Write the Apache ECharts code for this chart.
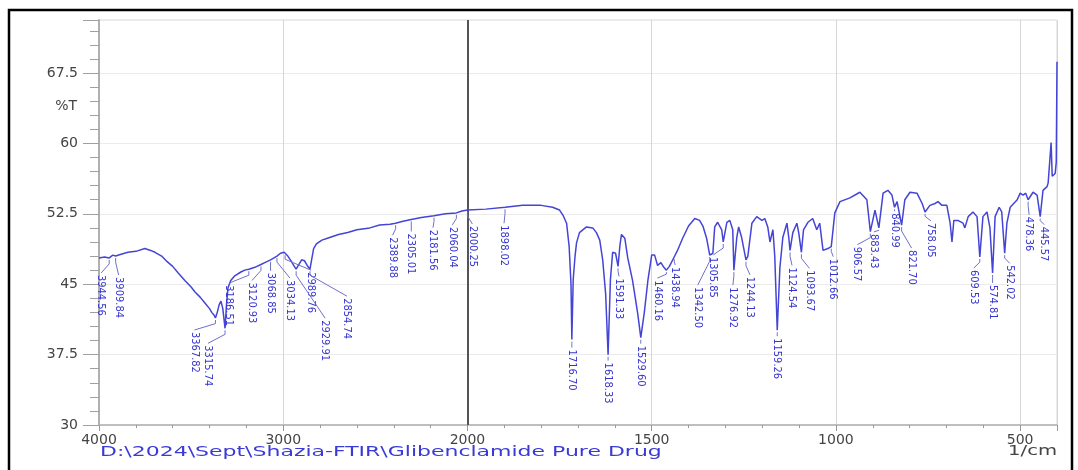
<!DOCTYPE html>
<html>
<head>
<meta charset="utf-8">
<title>Glibenclamide Pure Drug - FTIR</title>
<script src="https://cdn.jsdelivr.net/npm/echarts@6/dist/echarts.min.js"></script>
<style>
  html, body { margin: 0; padding: 0; background: #ffffff; }
  #chart { width: 1078px; height: 470px; }
</style>
</head>
<body>
<div id="chart"></div>
<script>
// FTIR spectrum: wavenumber (1/cm) and transmittance (%T)
const wavenumbers = [
  4000, 3970, 3944.56, 3925, 3909.84, 3880, 3843, 3800, 3751, 3720, 3696, 3660, 3630, 3600,
  3570, 3534, 3500, 3480, 3450, 3425, 3400, 3388, 3375, 3367.82, 3358, 3348, 3338, 3328,
  3315.74, 3308, 3300, 3285, 3263, 3230, 3209, 3186.51, 3154, 3120.93, 3100, 3068.85, 3050,
  3034.13, 3015, 2995, 2989.76, 2975, 2955, 2940, 2929.91, 2918, 2900, 2885, 2870, 2854.74,
  2846, 2835, 2820, 2790, 2760, 2700, 2650, 2600, 2530, 2477, 2420, 2389.88, 2350, 2305.01,
  2250, 2181.56, 2120, 2060.04, 2030, 2000.25, 1950, 1898.02, 1850, 1800, 1769, 1750, 1740,
  1731, 1724, 1719, 1716.70, 1713, 1708, 1704, 1696, 1677, 1660, 1650, 1641, 1633, 1625,
  1618.33, 1612, 1606, 1598, 1591.33, 1586, 1582, 1578, 1573, 1565, 1552, 1538, 1529.60,
  1520, 1510, 1500, 1492, 1484, 1475, 1467, 1460.16, 1452, 1438.94, 1430, 1416, 1400, 1383,
  1370, 1361, 1351, 1342.50, 1334, 1329, 1321, 1310, 1305.85, 1296, 1288, 1280, 1276.92,
  1269, 1264, 1256, 1244.13, 1239, 1228, 1215, 1201, 1193, 1185, 1179, 1171, 1166, 1159.26,
  1152, 1144, 1133, 1128, 1124.54, 1117, 1106, 1101, 1093.67, 1088, 1076, 1063, 1052, 1044,
  1035, 1022, 1012.66, 1003, 989, 962, 935, 916, 906.57, 894, 883.43, 872, 859, 848, 840.99,
  834, 821.70, 813, 799, 780, 766, 758.05, 745, 731, 723, 712, 699, 690, 685, 680, 669, 655,
  650, 641, 628, 617, 609.53, 601, 590, 582, 574.81, 568, 557, 550, 542.02, 536, 527, 508,
  500, 492, 485, 478.36, 465, 454, 445.57, 438, 427, 424, 419, 416, 413, 408, 405, 402, 400
];
const transmittance = [
  47.8, 47.9, 47.8, 48.1, 48.0, 48.2, 48.4, 48.5, 48.8, 48.6, 48.4, 48.0, 47.4, 46.9,
  46.2, 45.4, 44.7, 44.2, 43.6, 43.0, 42.4, 42.0, 41.7, 41.4, 42.0, 42.8, 43.2, 42.4,
  40.3, 42.8, 44.6, 45.4, 45.9, 46.3, 46.5, 46.6, 46.8, 47.1, 47.3, 47.6, 47.8,
  48.0, 48.3, 48.4, 48.3, 48.0, 47.4, 46.9, 46.6, 47.0, 47.6, 47.5, 47.0, 46.6,
  47.6, 48.8, 49.3, 49.7, 49.9, 50.3, 50.5, 50.8, 51.0, 51.3, 51.4, 51.5, 51.7, 51.9,
  52.1, 52.3, 52.5, 52.6, 52.8, 52.9, 53.0, 53.2, 53.4, 53.4, 53.2, 52.9, 52.3,
  51.5, 49.0, 45.0, 39.1, 45.5, 48.0, 49.4, 50.5, 51.1, 51.0, 50.5, 49.7, 47.6, 44.0,
  37.5, 45.5, 48.4, 48.3, 46.9, 49.2, 50.3, 50.1, 49.9, 47.8, 45.4, 41.9, 39.3,
  42.0, 45.5, 48.1, 48.1, 47.0, 47.3, 46.8, 46.5, 46.9, 47.9, 48.6, 49.9, 51.2, 52.0,
  51.8, 51.2, 49.9, 48.1, 48.3, 51.1, 51.6, 50.8, 49.5, 51.6, 51.8, 50.8, 46.5,
  50.0, 51.1, 50.0, 47.6, 48.0, 51.5, 52.2, 51.8, 52.0, 51.1, 49.5, 50.8, 48.0, 40.1,
  46.8, 50.0, 51.5, 50.0, 48.6, 50.5, 51.5, 50.5, 48.4, 50.8, 51.6, 52.0, 50.8, 51.5,
  48.6, 48.8, 49.0, 52.6, 53.8, 54.2, 54.8, 54.0, 50.6, 52.9, 51.0, 54.7, 55.0, 54.5, 53.2,
  53.8, 51.3, 54.0, 54.8, 54.7, 53.6, 52.7, 53.4, 53.6, 53.8, 53.4, 53.4, 51.5, 49.5, 51.8, 51.8, 51.5,
  51.0, 52.2, 52.7, 52.2, 47.9, 52.2, 52.7, 51.0, 46.2, 52.2, 53.2, 52.7, 48.3, 51.5, 53.2, 54.0,
  54.7, 54.5, 54.7, 54.0, 54.8, 54.5, 52.2, 55.0, 55.4, 55.8, 56.0, 60.1, 56.5, 56.3, 56.8, 58.0, 68.7
];

// Wavenumbers of the picked peaks
const peakWavenumbers = [
  3944.56, 3909.84, 3367.82, 3315.74, 3186.51, 3120.93, 3068.85, 3034.13, 2989.76, 2929.91,
  2854.74, 2389.88, 2305.01, 2181.56, 2060.04, 2000.25, 1898.02, 1716.70, 1618.33, 1591.33,
  1529.60, 1460.16, 1438.94, 1342.50, 1305.85, 1276.92, 1244.13, 1159.26, 1124.54, 1093.67,
  1012.66, 906.57, 883.43, 840.99, 821.70, 758.05, 609.53, 574.81, 542.02, 478.36, 445.57
];

const xTickLabels = [4000, 3000, 2000, 1500, 1000, 500];
const yTickLabels = [30, 37.5, 45, 52.5, 60, 67.5];

// Label placement for each peak: [dx, dy] in px from the peak point to the label's top
const peakLabelOffsets = [
  [-8, 17], [3, 21], [-21, 14], [-17, 17], [-20, 16], [-9, 18], [0, 13], [13, 24], [26, 19], [29, 51],
  [37, 29], [-3, 14], [0, 14], [-1, 14], [-4, 14], [5, 16], [-1, 18], [0, 10], [0, 8], [1, 12],
  [0, 8], [-9, 10], [1, 10], [-12, 32], [-10, 15], [-1, 17], [4, 17], [0, 8], [2, 17], [8, 18],
  [2, 12], [-13, 15], [-5, 6], [0, 6], [10, 25], [6, 11], [-6, 13], [0, 12], [5, 12], [1, 17], [4, 10]
];

// The wavenumber axis is expanded 2x below 2000 1/cm.
function toAxis(w) { return w >= 2000 ? 4000 - w : 2000 + 2 * (2000 - w); }
function fromAxis(u) { return u <= 2000 ? 4000 - u : 2000 - (u - 2000) / 2; }

const spectrum = wavenumbers.map((w, i) => [toAxis(w), transmittance[i]]);
const peaks = peakWavenumbers.map((w, k) => {
  const i = wavenumbers.indexOf(w);
  return [toAxis(w), transmittance[i], w, k];
});

const blue = '#4444d6';
const labelBlue = '#3434d0';

const chart = echarts.init(document.getElementById('chart'), null, { renderer: 'canvas' });

chart.setOption({
  backgroundColor: '#ffffff',
  animation: false,
  grid: {
    left: 99, right: 21, top: 20, bottom: 45,
    show: true, borderColor: '#d9d9d9', borderWidth: 1
  },
  xAxis: {
    type: 'value',
    min: 0, max: 5200, interval: 1000,
    axisLine: { show: true, onZero: false, lineStyle: { color: '#b0b0b0', width: 1.5 } },
    axisTick: { show: true, length: 6, lineStyle: { color: '#999' } },
    minorTick: { show: true, splitNumber: 5, length: 3, lineStyle: { color: '#999' } },
    axisLabel: {
      margin: 8,
      fontFamily: 'DejaVu Sans', fontSize: 14, color: '#444',
      formatter: u => {
        const w = fromAxis(u);
        return xTickLabels.indexOf(w) >= 0 ? String(w) : '';
      }
    },
    splitLine: { show: true, lineStyle: { color: '#d6d6d6', width: 1 } }
  },
  yAxis: {
    type: 'value',
    min: 30, max: 73.15, interval: 7.5,
    axisLine: { show: true, onZero: false, lineStyle: { color: '#b0b0b0', width: 2 } },
    axisTick: { show: true, length: 16, lineStyle: { color: '#a0a0a0' } },
    minorTick: { show: true, splitNumber: 5, length: 9, lineStyle: { color: '#a0a0a0' } },
    axisLabel: {
      margin: 21, showMaxLabel: false,
      fontFamily: 'DejaVu Sans', fontSize: 14, color: '#444',
      formatter: v => yTickLabels.indexOf(v) >= 0 ? String(v) : ''
    },
    splitLine: { show: true, lineStyle: { color: '#ebebeb', width: 1 } }
  },
  series: [
    {
      type: 'line',
      data: spectrum,
      showSymbol: false,
      smooth: false,
      lineStyle: { color: blue, width: 1.5 },
      z: 3,
      markLine: {
        silent: true,
        symbol: 'none',
        label: { show: false },
        lineStyle: { color: '#555', width: 2, type: 'solid' },
        data: [{ xAxis: toAxis(2000) }],
        z: 1
      }
    },
    {
      // peak markers: leader line plus a vertical wavenumber label
      type: 'custom',
      data: peaks,
      z: 4,
      renderItem: (params, api) => {
        const p = api.coord([api.value(0), api.value(1)]);
        const off = peakLabelOffsets[api.value(3)];
        const dx = off[0], dy = off[1];
        const bend = Math.min(6, dy * 0.4);
        return {
          type: 'group',
          children: [
            {
              type: 'polyline',
              shape: {
                points: [
                  [p[0], p[1] + 2],
                  [p[0], p[1] + bend],
                  [p[0] + dx, p[1] + dy - 2]
                ]
              },
              style: { stroke: '#7070c8', lineWidth: 1, fill: null }
            },
            {
              type: 'text',
              x: p[0] + dx, y: p[1] + dy,
              rotation: -Math.PI / 2,
              style: {
                text: api.value(2).toFixed(2),
                fill: labelBlue,
                font: '11px "Liberation Sans Narrow", "DejaVu Sans Condensed", "Liberation Sans", sans-serif',
                textAlign: 'left',
                textVerticalAlign: 'middle'
              }
            }
          ]
        };
      }
    }
  ],
  graphic: [
    {
      type: 'rect',
      shape: { x: 9, y: 10, width: 1063, height: 480 },
      style: { fill: 'none', stroke: '#000', lineWidth: 2.5 },
      silent: true
    },
    {
      type: 'text',
      x: 77, y: 106,
      style: {
        text: '%T', fill: '#444',
        font: '14px "DejaVu Sans"',
        textAlign: 'right', textVerticalAlign: 'middle'
      }
    },
    {
      type: 'text',
      x: 100, y: 452,
      scaleX: 1.57,
      style: {
        text: 'D:\\2024\\Sept\\Shazia-FTIR\\Glibenclamide Pure Drug',
        fill: '#3a3ad6',
        font: '14px "DejaVu Sans"',
        textAlign: 'left', textVerticalAlign: 'middle'
      }
    },
    {
      type: 'text',
      x: 1057, y: 451,
      scaleX: 1.4,
      style: {
        text: '1/cm', fill: '#444',
        font: '14px "DejaVu Sans"',
        textAlign: 'right', textVerticalAlign: 'middle'
      }
    }
  ]
});
</script>
</body>
</html>
